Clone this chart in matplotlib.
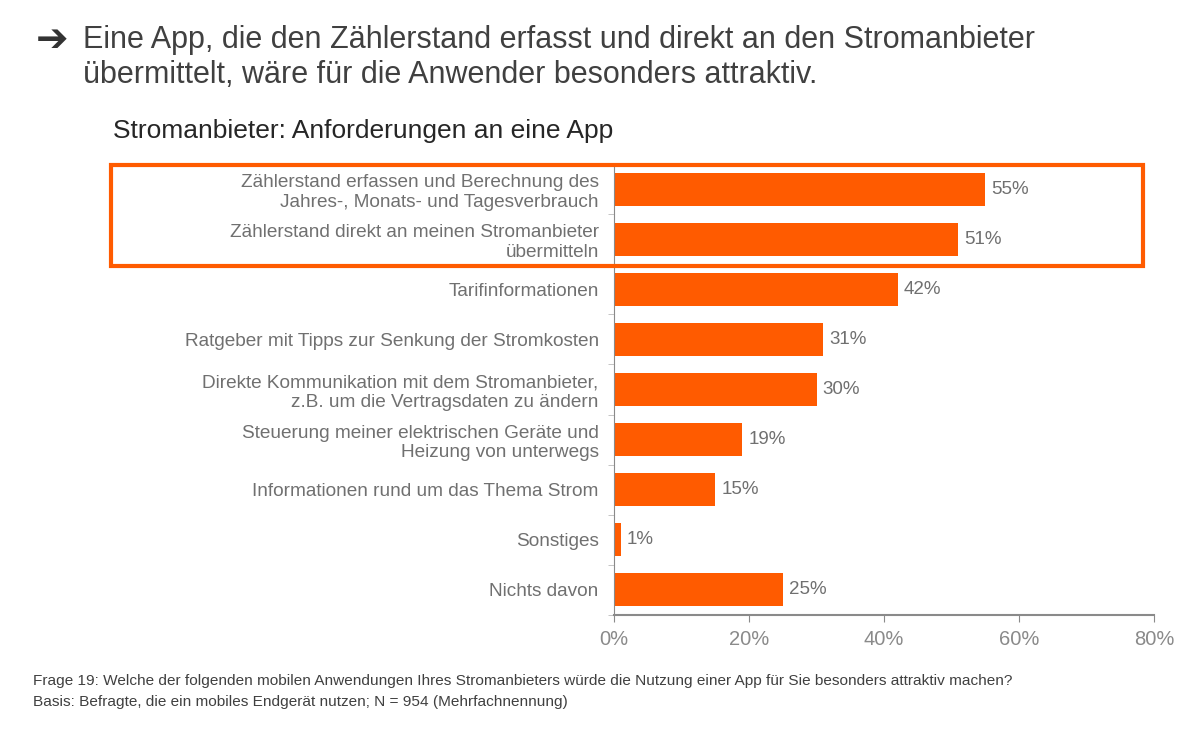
import matplotlib
matplotlib.use("Agg")
import matplotlib.pyplot as plt
from matplotlib.patches import Rectangle
from matplotlib.ticker import FixedLocator

plt.rcParams['font.family'] = ['Liberation Sans', 'DejaVu Sans']

categories = [
    "Zählerstand erfassen und Berechnung des\nJahres-, Monats- und Tagesverbrauch",
    "Zählerstand direkt an meinen Stromanbieter\nübermitteln",
    "Tarifinformationen",
    "Ratgeber mit Tipps zur Senkung der Stromkosten",
    "Direkte Kommunikation mit dem Stromanbieter,\nz.B. um die Vertragsdaten zu ändern",
    "Steuerung meiner elektrischen Geräte und\nHeizung von unterwegs",
    "Informationen rund um das Thema Strom",
    "Sonstiges",
    "Nichts davon",
]
values = [55, 51, 42, 31, 30, 19, 15, 1, 25]
x_ticks = [0, 20, 40, 60, 80]
x_labels = ["0%", "20%", "40%", "60%", "80%"]

ORANGE = "#FF5B00"
GRAY = "#8A8A8A"
LABEL = "#707070"

fig = plt.figure(figsize=(12, 7.34), dpi=100)
ax = fig.add_axes([614/1200, 1-615/734, 540/1200, 451/734])

ypos = list(range(len(values)))
ax.barh(ypos, values, height=0.66, color=ORANGE)
ax.set_ylim(len(values)-0.5, -0.5)
ax.set_xlim(0, 80)

for y, v in zip(ypos, values):
    ax.text(v + 0.9, y, f"{v}%", va="center", ha="left", fontsize=13.5, color=LABEL)

ax.set_yticks(ypos)
ax.set_yticklabels(categories, fontsize=13.7, color=LABEL, linespacing=1.2)
ax.tick_params(axis="y", length=0, pad=11)
ax.yaxis.set_minor_locator(FixedLocator([i + 0.5 for i in range(-1, len(values))]))
ax.tick_params(axis="y", which="minor", length=4, color="#BBBBBB")

ax.set_xticks(x_ticks)
ax.set_xticklabels(x_labels, fontsize=14.5, color=GRAY)
ax.tick_params(axis="x", length=5, color=GRAY, pad=6)

for s in ["top", "right"]:
    ax.spines[s].set_visible(False)
ax.spines["left"].set_color(GRAY)
ax.spines["bottom"].set_color(GRAY)
ax.spines["bottom"].set_linewidth(1.5)

# highlight box around the first two rows
fig.patches.append(Rectangle((111/1200, 1-266/734), 1032/1200, 101/734,
                             transform=fig.transFigure, fill=False,
                             edgecolor=ORANGE, linewidth=3))

fig.text(36/1200, 1-40/734, "➔", fontsize=28, color="#333333", va="center",
         fontweight="bold", family=["DejaVu Sans"])
fig.text(83/1200, 1-40/734,
         "Eine App, die den Zählerstand erfasst und direkt an den Stromanbieter",
         fontsize=22, color="#404040", va="center")
fig.text(83/1200, 1-75/734,
         "übermittelt, wäre für die Anwender besonders attraktiv.",
         fontsize=22, color="#404040", va="center")
fig.text(113/1200, 1-131/734, "Stromanbieter: Anforderungen an eine App",
         fontsize=19, color="#262626", va="center")

fig.text(33/1200, 1-681/734,
         "Frage 19: Welche der folgenden mobilen Anwendungen Ihres Stromanbieters würde die Nutzung einer App für Sie besonders attraktiv machen?",
         fontsize=11.1, color="#404040", va="center")
fig.text(33/1200, 1-702/734,
         "Basis: Befragte, die ein mobiles Endgerät nutzen; N = 954 (Mehrfachnennung)",
         fontsize=11.1, color="#404040", va="center")

fig.savefig("out.png", dpi=100)
